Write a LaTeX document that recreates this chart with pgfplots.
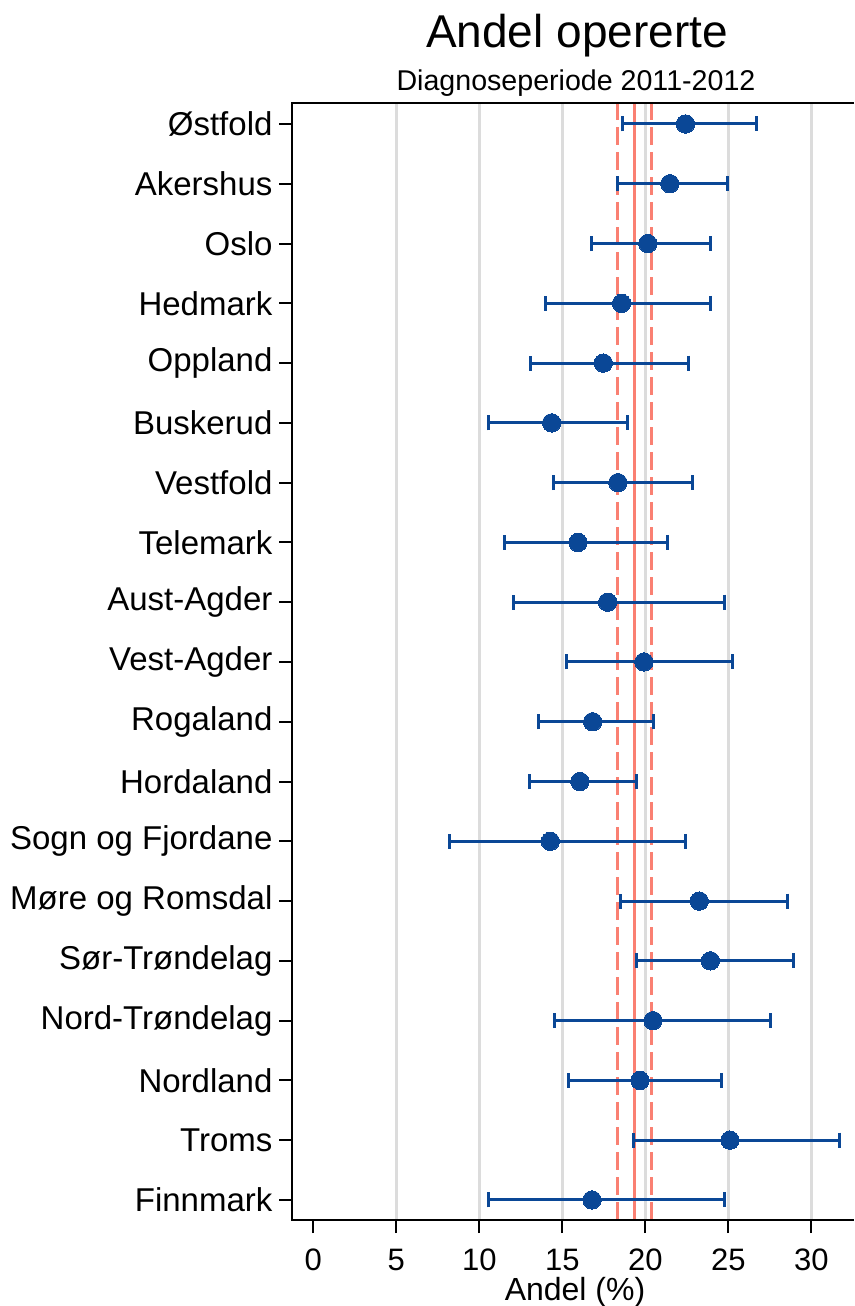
\documentclass[border=0pt]{standalone}
\usepackage{fontspec}
\setmainfont{Liberation Sans}
\usepackage{pgfplots}
\usepackage{pgfplotstable}
\pgfplotsset{compat=1.18}
\definecolor{dotblue}{HTML}{0A4796}
\definecolor{refred}{HTML}{FA8072}
\definecolor{gridgray}{HTML}{DCDCDC}

\pgfplotstableread{
y  x      lo     hi
18 22.42  18.61  26.70
17 21.48  18.30  24.98
16 20.15  16.76  23.94
15 18.57  13.98  23.94
14 17.47  13.07  22.63
13 14.36  10.56  18.92
12 18.35  14.48  22.87
11 15.94  11.51  21.31
10 17.73  12.05  24.76
9  19.92  15.24  25.28
8  16.83  13.59  20.48
7  16.06  13.05  19.48
6  14.28   8.21  22.45
5  23.25  18.53  28.55
4  23.92  19.46  28.92
3  20.46  14.54  27.55
2  19.68  15.36  24.58
1  25.10  19.28  31.69
0  16.79  10.56  24.76
}\datatable

\begin{document}
\begin{tikzpicture}
\begin{axis}[
  name=ax, scale only axis, width=280.75pt, height=558.25pt,
  xmin=-1.25, xmax=32.57, ymin=-0.335, ymax=18.343,
  axis line style={draw=none},
  clip=false,
  xtick={0,5,...,30}, ytick={0,...,18},
  yticklabels={Finnmark,Troms,Nordland,Nord-Trøndelag,Sør-Trøndelag,Møre og Romsdal,Sogn og Fjordane,Hordaland,Rogaland,Vest-Agder,Aust-Agder,Telemark,Vestfold,Buskerud,Oppland,Hedmark,Oslo,Akershus,Østfold},
  tick align=outside,
  xtick pos=bottom, ytick pos=left,
  major tick length=6.5pt,
  tick style={black, line width=1pt},
  /pgf/number format/assume math mode=true,
  xticklabel style={font=\fontsize{15.5}{18}\selectfont, anchor=base, yshift=-18.5pt},
  yticklabel style={font=\fontsize{16.5}{19}\selectfont, anchor=east},
  extra x ticks={5,10,...,30}, extra x tick labels={},
  extra x tick style={grid=major, major tick length=0pt, major grid style={gridgray, line width=1.25pt}},
]
\addplot[refred, line width=1.25pt, dash pattern=on 9pt off 3.5pt] coordinates {(18.33,-0.335) (18.33,18.343)};
\addplot[refred, line width=1.25pt, dash pattern=on 9pt off 3.5pt] coordinates {(20.38,-0.335) (20.38,18.343)};
\addplot[refred, line width=1.25pt] coordinates {(19.34,-0.335) (19.34,18.343)};
\addplot[dotblue, only marks, mark=*, mark size=4.6pt, mark options={fill=dotblue, draw=dotblue, line width=0pt},
  error bars/.cd, x dir=both, x explicit,
  error bar style={line width=1.5pt, dotblue},
  error mark options={line width=1.5pt, mark size=3.75pt, dotblue, rotate=90}]
  table[x=x, y=y, x error plus expr=\thisrow{hi}-\thisrow{x}, x error minus expr=\thisrow{x}-\thisrow{lo}] {\datatable};
\draw[black, line width=1pt] (rel axis cs:1,1) -- (rel axis cs:0,1) -- (rel axis cs:0,0) -- (rel axis cs:1,0);
\end{axis}
\node[anchor=base, font=\fontsize{23}{27}\selectfont] at ([xshift=142.25pt, yshift=27.75pt]ax.north west) {Andel opererte};
\node[anchor=base, font=\fontsize{14.3}{17}\selectfont] at ([xshift=141.75pt, yshift=6.25pt]ax.north west) {Diagnoseperiode 2011-2012};
\node[anchor=base, font=\fontsize{16}{19}\selectfont] at ([xshift=141.25pt, yshift=-40pt]ax.south west) {Andel (\%)};
\pgfresetboundingbox
\path ([xshift=-146.25pt, yshift=-43pt]ax.south west) rectangle ([yshift=51.75pt]ax.north east);
\end{tikzpicture}
\end{document}
